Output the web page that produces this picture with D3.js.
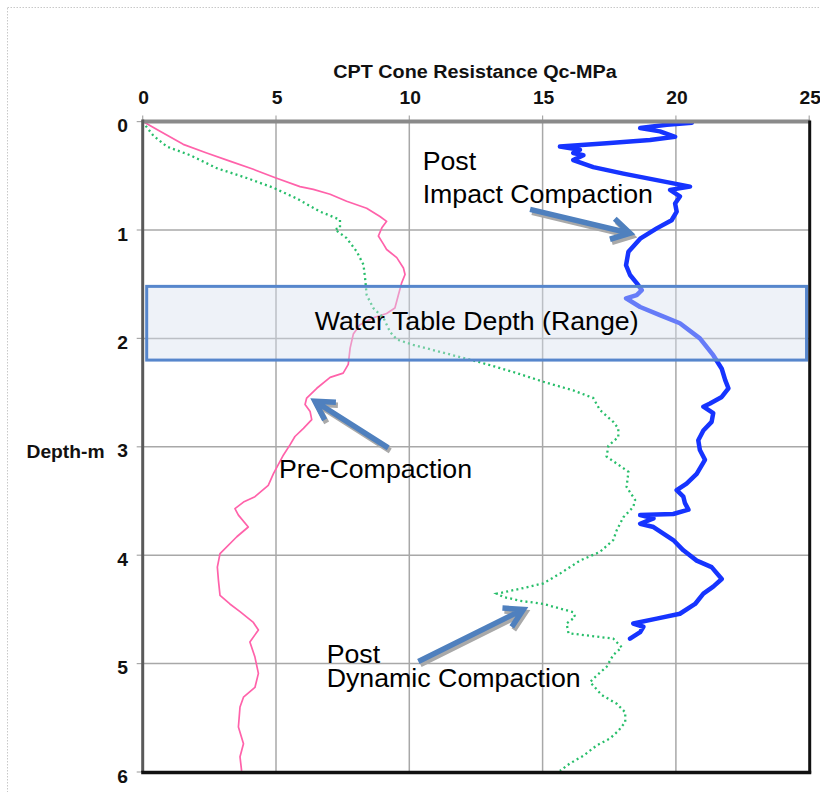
<!DOCTYPE html>
<html>
<head>
<meta charset="utf-8">
<script src="https://cdn.jsdelivr.net/npm/d3@7"></script>
<style>
  html, body { margin: 0; padding: 0; background: #fff; }
  svg { display: block; font-family: "Liberation Sans", Arial, sans-serif; }
</style>
</head>
<body>
<svg id="chart" width="820" height="792"></svg>
<script>
// CPT cone resistance profiles: [Qc (MPa), depth (m)]
const preCompaction = [
  [0, 0], [0.09, 0.01], [0.65, 0.09], [1.52, 0.21], [2.40, 0.29], [3.27, 0.365], [4.15, 0.44],
  [5.0, 0.52], [5.9, 0.60], [6.4, 0.625], [7.03, 0.67], [7.65, 0.735], [8.40, 0.80], [8.90, 0.875],
  [9.15, 0.92], [8.97, 0.98], [8.84, 1.055], [9.03, 1.13], [9.15, 1.18], [9.53, 1.255], [9.78, 1.35],
  [9.84, 1.41], [9.71, 1.49], [9.59, 1.60], [9.46, 1.72], [9.15, 1.77], [8.65, 1.81], [8.15, 1.875],
  [7.90, 1.96], [7.78, 2.09], [7.71, 2.24], [7.52, 2.32], [7.03, 2.36], [6.53, 2.46], [6.15, 2.55],
  [6.09, 2.61], [6.28, 2.675], [6.34, 2.75], [6.03, 2.83], [5.71, 2.905], [5.53, 2.98], [5.28, 3.075],
  [4.90, 3.25], [4.71, 3.355], [4.21, 3.46], [3.78, 3.51], [3.46, 3.57], [3.59, 3.63], [3.96, 3.74],
  [3.53, 3.83], [2.90, 3.985], [2.80, 4.11], [2.84, 4.23], [2.90, 4.37], [3.27, 4.45], [3.65, 4.52],
  [4.15, 4.62], [4.34, 4.69], [4.02, 4.80], [4.21, 4.94], [4.34, 5.09], [4.21, 5.22], [3.78, 5.31],
  [3.65, 5.40], [3.59, 5.585], [3.78, 5.74], [3.65, 5.86], [3.71, 5.99]
];

const postDynamic = [
  [0, 0], [0.02, 0.01], [0.40, 0.13], [0.90, 0.23], [1.78, 0.31], [2.78, 0.43], [3.90, 0.52],
  [4.90, 0.61], [5.78, 0.71], [6.65, 0.83], [7.40, 0.905], [7.40, 0.98], [7.21, 0.995], [7.65, 1.075],
  [8.03, 1.20], [8.28, 1.32], [8.34, 1.44], [8.40, 1.60], [8.65, 1.72], [9.03, 1.81], [9.28, 1.94],
  [9.53, 2.01], [10.15, 2.06], [11.40, 2.14], [12.65, 2.22], [13.90, 2.31], [15.03, 2.40],
  [16.15, 2.48], [16.9, 2.55], [17.15, 2.66], [17.65, 2.77], [17.84, 2.83], [17.84, 2.91],
  [17.47, 2.99], [17.40, 3.09], [17.78, 3.155], [18.22, 3.23], [18.15, 3.37], [18.47, 3.49],
  [18.40, 3.555], [18.03, 3.65], [17.78, 3.77], [17.65, 3.86], [17.15, 3.97], [16.40, 4.05],
  [15.65, 4.17], [15.03, 4.26], [14.15, 4.31], [13.28, 4.355], [13.53, 4.385], [14.15, 4.42],
  [15.03, 4.45], [16.15, 4.525], [16.22, 4.57], [15.9, 4.63], [15.97, 4.72], [16.65, 4.74],
  [17.65, 4.77], [17.97, 4.85], [17.65, 4.92], [17.40, 5.03], [17.03, 5.11], [16.78, 5.17],
  [17.22, 5.29], [17.78, 5.37], [18.1, 5.45], [18.1, 5.54], [17.84, 5.62], [17.53, 5.69],
  [17.03, 5.755], [16.53, 5.85], [16.03, 5.92], [15.65, 5.99]
];

const postImpact = [
  [20.6, 0.01], [19.66, 0.03], [18.66, 0.06], [19.4, 0.09], [19.97, 0.14], [19.03, 0.17],
  [17.40, 0.20], [15.65, 0.23], [16.4, 0.26], [16.15, 0.29], [16.53, 0.31], [16.15, 0.355],
  [16.9, 0.42], [18.03, 0.48], [19.28, 0.54], [20.53, 0.60], [19.78, 0.63], [20.15, 0.69],
  [19.97, 0.755], [20.03, 0.83], [19.84, 0.91], [19.28, 0.985], [18.66, 1.08], [18.22, 1.20],
  [18.13, 1.325], [18.28, 1.415], [18.53, 1.49], [18.72, 1.555], [18.53, 1.60], [18.13, 1.63],
  [18.66, 1.71], [19.40, 1.785], [20.15, 1.86], [20.9, 2.00], [21.4, 2.155], [21.72, 2.28],
  [21.85, 2.385], [21.97, 2.46], [21.72, 2.54], [21.28, 2.60], [21.03, 2.63], [21.4, 2.69],
  [21.34, 2.77], [21.03, 2.85], [20.84, 2.94], [20.9, 3.03], [21.09, 3.12], [20.78, 3.25],
  [20.40, 3.34], [20.03, 3.40], [20.28, 3.46], [20.34, 3.52], [20.47, 3.58], [19.9, 3.62],
  [18.66, 3.63], [19.16, 3.66], [18.66, 3.71], [19.16, 3.74], [19.53, 3.80], [19.9, 3.86],
  [20.28, 3.955], [20.78, 4.05], [21.34, 4.11], [21.72, 4.22], [21.4, 4.29], [21.03, 4.355],
  [20.72, 4.45], [20.15, 4.54], [19.28, 4.585], [18.40, 4.63], [18.78, 4.66], [18.66, 4.71],
  [18.28, 4.77]
];

const xTicks = [0, 5, 10, 15, 20, 25];
const yTicks = [0, 1, 2, 3, 4, 5, 6];
const waterTable = { qcFrom: 0.15, qcTo: 24.9, depthFrom: 1.52, depthTo: 2.2 };

// Annotation texts: first-line anchor [Qc, depth], line step in px, and arrows [tail, tip]
const labels = [
  { lines: ["Post", "Impact Compaction"], at: [10.5, 0.443], step: 33 },
  { lines: ["Pre-Compaction"], at: [5.11, 3.29], step: 0 },
  { lines: ["Post", "Dynamic Compaction"], at: [6.90, 4.995], step: 24 }
];
const arrows = [
  [[14.53, 0.81], [18.28, 1.03]],
  [[9.21, 3.01], [6.46, 2.58]],
  [[10.34, 4.98], [14.28, 4.50]]
];

const svg = d3.select("#chart");
const x = d3.scaleLinear().domain([0, 25]).range([142.7, 809.2]);
const y = d3.scaleLinear().domain([0, 6]).range([121.6, 772]);
const STRETCH = 1.07;

// outer dotted frame
svg.append("rect").attr("x", 7.5).attr("y", 7.5).attr("width", 830).attr("height", 800)
  .attr("fill", "none").attr("stroke", "#c8c8c8").attr("stroke-width", 1)
  .attr("stroke-dasharray", "1.5,1.5");

// grid
const grid = svg.append("g");
grid.selectAll(".vx").data(xTicks.slice(1, -1)).join("line")
  .attr("x1", d => x(d)).attr("x2", d => x(d)).attr("y1", y(0)).attr("y2", y(6))
  .attr("stroke", "#a8a8a8").attr("stroke-width", 1.5);
grid.selectAll(".hy").data(yTicks.slice(1, -1)).join("line")
  .attr("y1", d => y(d)).attr("y2", d => y(d)).attr("x1", x(0)).attr("x2", x(25))
  .attr("stroke", "#a8a8a8").attr("stroke-width", 1.5);

// tick marks outside the frame
grid.selectAll(".tx").data(xTicks).join("line")
  .attr("x1", d => x(d)).attr("x2", d => x(d)).attr("y1", y(0) - 6).attr("y2", y(0))
  .attr("stroke", "#a8a8a8").attr("stroke-width", 1.2);
grid.selectAll(".ty").data(yTicks).join("line")
  .attr("y1", d => y(d)).attr("y2", d => y(d)).attr("x1", x(0) - 6).attr("x2", x(0))
  .attr("stroke", "#a8a8a8").attr("stroke-width", 1.2);

// profiles
const line = d3.line().x(d => x(d[0])).y(d => y(d[1]));
svg.append("path").datum(preCompaction).attr("d", line)
  .attr("fill", "none").attr("stroke", "#ff62aa").attr("stroke-width", 1.7)
  .attr("stroke-linejoin", "round");
svg.append("path").datum(postDynamic).attr("d", line)
  .attr("fill", "none").attr("stroke", "#27be6a").attr("stroke-width", 2.3)
  .attr("stroke-dasharray", "2,3.2");
svg.append("path").datum(postImpact).attr("d", line)
  .attr("fill", "none").attr("stroke", "#1634ff").attr("stroke-width", 4.5)
  .attr("stroke-linejoin", "round").attr("stroke-linecap", "round");

// water table range band
svg.append("rect")
  .attr("x", x(waterTable.qcFrom)).attr("y", y(waterTable.depthFrom))
  .attr("width", x(waterTable.qcTo) - x(waterTable.qcFrom))
  .attr("height", y(waterTable.depthTo) - y(waterTable.depthFrom))
  .attr("fill", "rgb(214,223,238)").attr("fill-opacity", 0.42)
  .attr("stroke", "#5686cc").attr("stroke-width", 3);

// frame
svg.append("line").attr("x1", x(0)).attr("x2", x(25) + 1).attr("y1", y(0)).attr("y2", y(0))
  .attr("stroke", "#8a8a8a").attr("stroke-width", 4);
svg.append("line").attr("x1", x(0)).attr("x2", x(0)).attr("y1", y(0) - 2).attr("y2", y(6))
  .attr("stroke", "#5a5a5a").attr("stroke-width", 3);
svg.append("line").attr("x1", x(25) + 0.5).attr("x2", x(25) + 0.5).attr("y1", y(0) - 1).attr("y2", y(6) + 1.5)
  .attr("stroke", "#111").attr("stroke-width", 3);
svg.append("line").attr("x1", x(0) - 1.5).attr("x2", x(25) + 2).attr("y1", y(6) + 0.5).attr("y2", y(6) + 0.5)
  .attr("stroke", "#111").attr("stroke-width", 3.5);

function stretchedText(g, px, py, txt, anchor) {
  return g.append("text")
    .attr("transform", `translate(${px},${py}) scale(${STRETCH},1)`)
    .attr("text-anchor", anchor).text(txt);
}

// axis texts
const axisText = svg.append("g").attr("font-weight", "bold").attr("fill", "#111").attr("font-size", 18);
stretchedText(axisText, 475, 78, "CPT Cone Resistance Qc-MPa", "middle").attr("font-size", 18.5);
xTicks.forEach(t => stretchedText(axisText, x(t) + 1, 104, String(t), "middle"));
yTicks.forEach(t => stretchedText(axisText, 128, y(t) + 10.5, String(t), "end"));
stretchedText(axisText, 26.5, 458, "Depth-m", "start");

// annotations
const notes = svg.append("g").attr("font-size", 25).attr("fill", "#000");
stretchedText(notes, (x(waterTable.qcFrom) + x(waterTable.qcTo)) / 2, y(1.92), "Water Table Depth (Range)", "middle");
labels.forEach(l => {
  const t = notes.append("text")
    .attr("transform", `translate(${x(l.at[0])},${y(l.at[1])}) scale(${STRETCH},1)`);
  l.lines.forEach((s, i) => {
    t.append("tspan").attr("x", 0).attr("dy", i === 0 ? 0 : l.step).text(s);
  });
});

// arrows with drop shadow
function arrowPath(tail, tip) {
  const x0 = x(tail[0]), y0 = y(tail[1]), x1 = x(tip[0]), y1 = y(tip[1]);
  const a = Math.atan2(y1 - y0, x1 - x0);
  const L = 21, w = Math.PI / 6;
  const w1 = [x1 - L * Math.cos(a - w), y1 - L * Math.sin(a - w)];
  const w2 = [x1 - L * Math.cos(a + w), y1 - L * Math.sin(a + w)];
  return `M${x0},${y0}L${x1},${y1}M${w1[0]},${w1[1]}L${x1},${y1}L${w2[0]},${w2[1]}`;
}
const arrowG = svg.append("g");
arrows.forEach(([tail, tip]) => {
  arrowG.append("path").attr("d", arrowPath(tail, tip))
    .attr("transform", "translate(2,3)")
    .attr("fill", "none").attr("stroke", "#a9a9a9").attr("stroke-width", 5.5)
    .attr("stroke-linejoin", "miter");
});
arrows.forEach(([tail, tip]) => {
  arrowG.append("path").attr("d", arrowPath(tail, tip))
    .attr("fill", "none").attr("stroke", "#4f80be").attr("stroke-width", 5.5)
    .attr("stroke-linejoin", "miter");
});
</script>
</body>
</html>
